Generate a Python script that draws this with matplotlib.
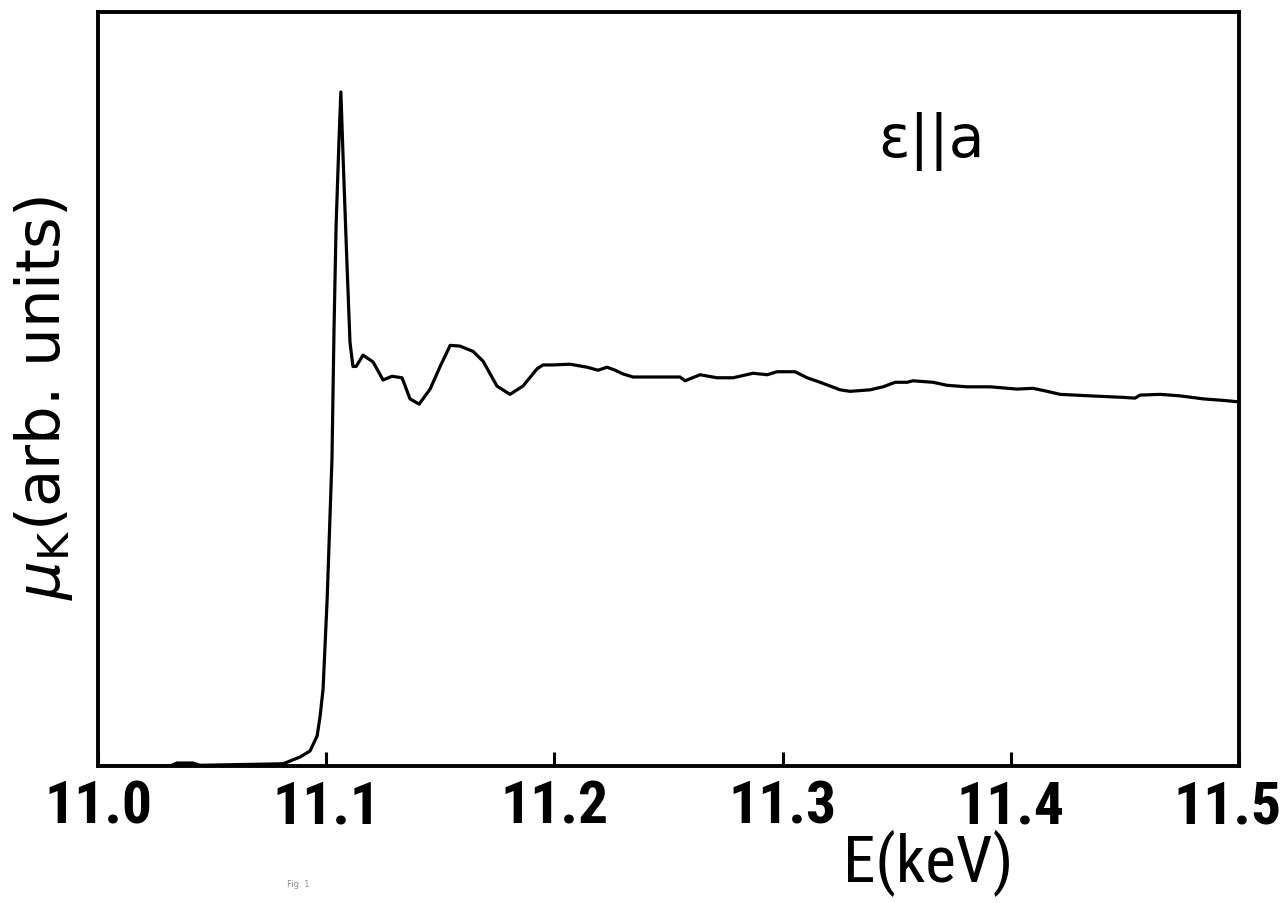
import matplotlib
matplotlib.use('Agg')
import matplotlib.pyplot as plt
from matplotlib.transforms import ScaledTranslation

# photon energy (keV)
energy = [11.0000, 11.0316, 11.0346, 11.0416, 11.0447, 11.0811, 11.0885, 11.0929,
          11.0960, 11.0973, 11.0986, 11.1004, 11.1025, 11.1034, 11.1043, 11.1056,
          11.1064, 11.1074, 11.1090, 11.1104, 11.1117, 11.1131, 11.1161, 11.1205,
          11.1249, 11.1288, 11.1332, 11.1367, 11.1407, 11.1455, 11.1499, 11.1543,
          11.1586, 11.1643, 11.1687, 11.1748, 11.1805, 11.1862, 11.1924, 11.1950,
          11.1994, 11.2068, 11.2143, 11.2191, 11.2230, 11.2266, 11.2301, 11.2344,
          11.2463, 11.2550, 11.2572, 11.2638, 11.2712, 11.2783, 11.2870, 11.2932,
          11.2975, 11.3054, 11.3107, 11.3164, 11.3252, 11.3295, 11.3383, 11.3440,
          11.3493, 11.3545, 11.3571, 11.3659, 11.3720, 11.3808, 11.3909, 11.4027,
          11.4097, 11.4159, 11.4216, 11.4347, 11.4492, 11.4544, 11.4566, 11.4654,
          11.4741, 11.4843, 11.4930, 11.5000]

# absorption mu_K, arbitrary units (0 = baseline, 100 = top of frame)
mu_k = [0.0, 0.0, 0.4, 0.4, 0.1, 0.3, 1.2, 2.0,
        4.0, 6.6, 10.2, 22.2, 40.7, 58.0, 71.6, 83.2,
        89.4, 80.5, 67.2, 56.2, 53.0, 53.0, 54.5, 53.6,
        51.2, 51.7, 51.5, 48.7, 48.0, 50.0, 53.0, 55.8,
        55.7, 55.0, 53.7, 50.4, 49.3, 50.4, 52.7, 53.2,
        53.2, 53.3, 52.9, 52.5, 52.9, 52.5, 52.0, 51.6,
        51.6, 51.6, 51.1, 51.9, 51.5, 51.5, 52.1, 51.9,
        52.3, 52.3, 51.5, 50.9, 49.9, 49.7, 49.9, 50.3,
        50.9, 50.9, 51.1, 50.9, 50.5, 50.3, 50.3, 50.0,
        50.1, 49.7, 49.3, 49.1, 48.9, 48.8, 49.2, 49.3,
        49.1, 48.7, 48.5, 48.3]

xticks = [11.0, 11.1, 11.2, 11.3, 11.4, 11.5]
xtick_labels = ['11.0', '11.1', '11.2', '11.3', '11.4', '11.5']

plt.rcParams['mathtext.fontset'] = 'dejavusans'
narrow = ['Roboto Condensed', 'DejaVu Sans']

fig = plt.figure(figsize=(12.85, 9.04), dpi=100)
ax = fig.add_axes([0.0763, 0.1515, 0.888, 0.834])

ax.plot(energy, mu_k, color='black', linewidth=2.3)

ax.set_xlim(11.0, 11.5)
ax.set_ylim(0, 100)
ax.set_xticks(xticks)
ax.set_xticklabels(xtick_labels, family=narrow, fontweight='bold', fontsize=43)
ax.set_yticks([])
ax.tick_params(axis='x', direction='in', length=10, width=2.2, pad=9)

# last label would run off the right edge, nudge it in a bit
last = ax.get_xticklabels()[-1]
last.set_transform(last.get_transform() + ScaledTranslation(-0.12, 0, fig.dpi_scale_trans))

for s in ax.spines.values():
    s.set_linewidth(2.8)

ax.set_ylabel(r'$\mu_\mathsf{K}$(arb. units)', fontsize=44)
ax.yaxis.set_label_coords(-0.02, 0.49)
fig.text(0.722, 0.024, 'E(keV)', family=narrow, fontsize=47, ha='center', va='baseline')
ax.text(0.73, 0.83, 'ε||a', transform=ax.transAxes, fontsize=42, ha='center', va='center')
fig.text(0.232, 0.019, 'Fig. 1', fontsize=6, color='0.55', ha='center')

fig.savefig('out.png', dpi=100)
